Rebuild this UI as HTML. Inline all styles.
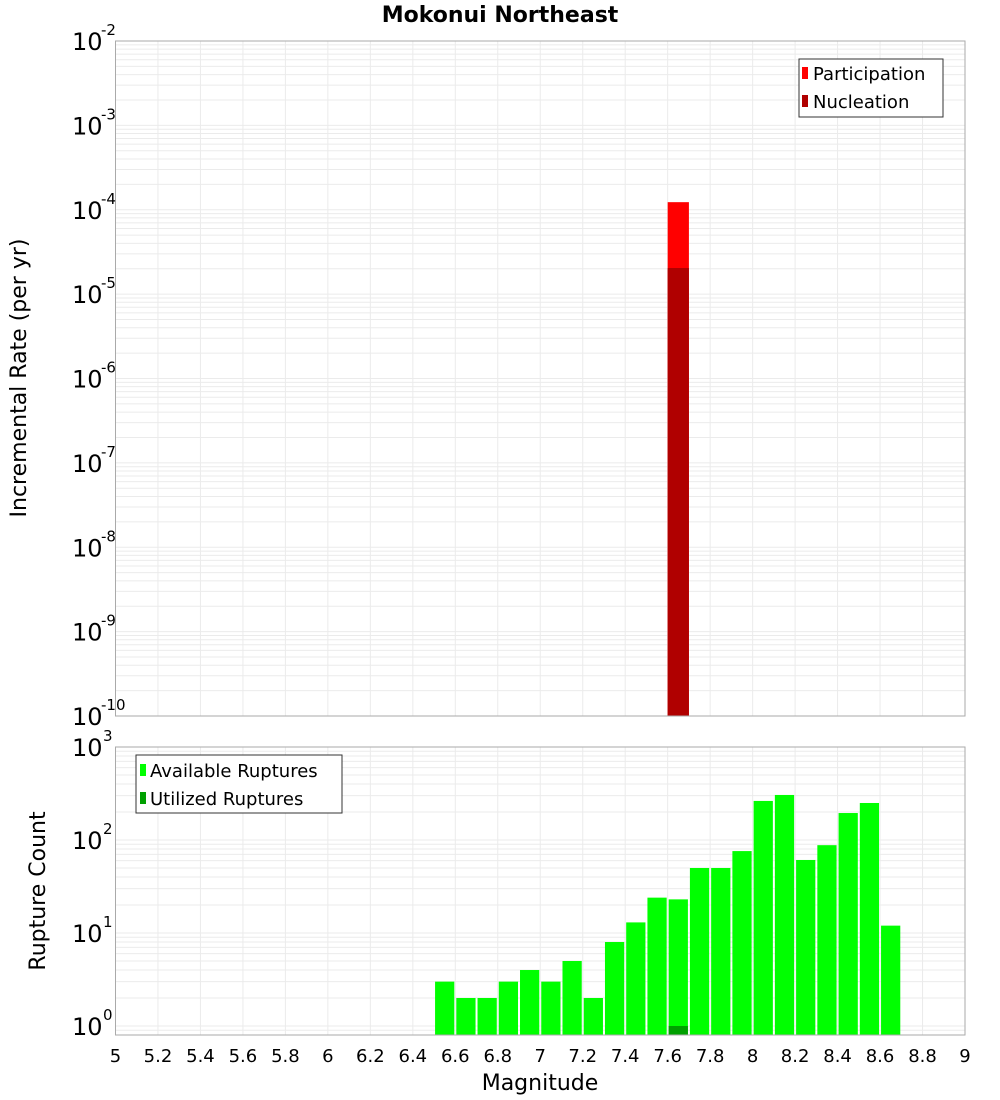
<!DOCTYPE html>
<html><head><meta charset="utf-8"><style>
body{margin:0;background:#fff;}
svg{display:block;font-family:"DejaVu Sans","Liberation Sans",sans-serif;}
</style></head><body>
<svg id="c" width="1000" height="1100"></svg>
<script>
const topBins=[7.65];
const participation=[1.23e-4];
const nucleation=[2.04e-5];
const botBins=[6.55,6.65,6.75,6.85,6.95,7.05,7.15,7.25,7.35,7.45,7.55,7.65,7.75,7.85,7.95,8.05,8.15,8.25,8.35,8.45,8.55,8.65];
const available=[3,2,2,3,4,3,5,2,8,13,24,23,50,50,76,263,305,61,88,195,250,12];
const utilizedBins=[7.65];
const utilized=[1];
const xTicks=[5,5.2,5.4,5.6,5.8,6,6.2,6.4,6.6,6.8,7,7.2,7.4,7.6,7.8,8,8.2,8.4,8.6,8.8,9];
const topExp=[-10,-9,-8,-7,-6,-5,-4,-3,-2];
const botExp=[0,1,2,3];

const NS='http://www.w3.org/2000/svg';
const svg=document.getElementById('c');
function el(t,a,p){const e=document.createElementNS(NS,t);for(const k in a)e.setAttribute(k,a[k]);(p||svg).appendChild(e);return e;}
const X0=115.5,X1=965;
const x=v=>X0+(v-5)/4*(X1-X0);
const T0=41,T1=716;
const yT=v=>T0+(-2-Math.log10(v))/8*(T1-T0);
const B0=747,B1=1035,B10=1026;
const dec=(B10-B0)/3;
const yB=v=>B10-Math.log10(v)*dec;

function grid(y0,y1,eMin,eMax,yf,g){
  for(let e=eMin;e<eMax+1;e++)for(let m=1;m<10;m++){const v=m*Math.pow(10,e);const yy=yf(v);if(yy<y0-0.5||yy>y1+0.5)continue;
    el('line',{x1:X0,x2:X1,y1:yy,y2:yy,stroke:'#ebebeb','stroke-width':1},g);}
  xTicks.forEach(t=>el('line',{x1:x(t),x2:x(t),y1:y0,y2:y1,stroke:'#ebebeb','stroke-width':1},g));
}
// title
const tt=el('text',{x:500,y:22,'text-anchor':'middle','font-size':22,'font-weight':'bold'});tt.textContent='Mokonui Northeast';


// top plot
const gt=el('g',{});
el('rect',{x:X0,y:T0,width:X1-X0,height:T1-T0,fill:'#fff'},gt);
grid(T0,T1,-10,-2,yT,gt);
topBins.forEach((b,i)=>{
  const r=el('rect',{x:x(b-0.05),y:yT(participation[i]),width:x(b+0.05)-x(b-0.05),height:T1-yT(participation[i]),fill:'#ff0000'},gt);
  
  const r2=el('rect',{x:x(b-0.05),y:yT(nucleation[i]),width:x(b+0.05)-x(b-0.05),height:T1-yT(nucleation[i]),fill:'#b00000'},gt);
  
});
el('rect',{x:X0,y:T0,width:X1-X0,height:T1-T0,fill:'none',stroke:'#aaa'},gt);
topExp.forEach(e=>{const yy=yT(Math.pow(10,e));
  const t=el('text',{x:72,y:yy+9,'font-size':24},gt);t.textContent='10';
  
  const s=el('text',{x:101,y:yy-6,'font-size':15},gt);s.textContent=String(e);
});
const yl=el('text',{x:26,y:378,'font-size':22,'text-anchor':'middle',transform:'rotate(-90 26 378)'});yl.textContent='Incremental Rate (per yr)';

// top legend
const lg=el('g',{});
el('rect',{x:799,y:59,width:144,height:58,fill:'#fff',stroke:'#333'},lg);
el('rect',{x:802,y:67,width:6,height:12,fill:'#ff0000'},lg);
el('rect',{x:802,y:95,width:6,height:12,fill:'#b00000'},lg);
let t1=el('text',{x:813,y:80,'font-size':18},lg);t1.textContent='Participation';
let t2=el('text',{x:813,y:108,'font-size':18},lg);t2.textContent='Nucleation';

// bottom plot
const gb=el('g',{});
el('rect',{x:X0,y:B0,width:X1-X0,height:B1-B0,fill:'#fff'},gb);
grid(B0,B1,-1,3,yB,gb);
botBins.forEach((b,i)=>{
  const x0=x(b-0.05)+1,w=x(b+0.05)-x(b-0.05)-2;
  const r=el('rect',{x:x0,y:yB(available[i]),width:w,height:B1-yB(available[i]),fill:'#00ff00'},gb);
  
});
utilizedBins.forEach((b,i)=>{
  const x0=x(b-0.05)+1,w=x(b+0.05)-x(b-0.05)-2;
  const r=el('rect',{x:x0,y:yB(utilized[i]),width:w,height:B1-yB(utilized[i]),fill:'#00a000'},gb);
  
});
el('rect',{x:X0,y:B0,width:X1-X0,height:B1-B0,fill:'none',stroke:'#aaa'},gb);
botExp.forEach(e=>{const yy=yB(Math.pow(10,e));
  const t=el('text',{x:72,y:yy+9,'font-size':24},gb);t.textContent='10';
  
  const s=el('text',{x:103,y:yy-6,'font-size':15},gb);s.textContent=String(e);
});
xTicks.forEach(t=>{const tx=el('text',{x:x(t),y:1062,'font-size':18,'text-anchor':'middle'});tx.textContent=String(t);
  });
const xl=el('text',{x:540,y:1090,'font-size':22,'text-anchor':'middle'});xl.textContent='Magnitude';

const yl2=el('text',{x:45,y:891,'font-size':22,'text-anchor':'middle',transform:'rotate(-90 45 891)'});yl2.textContent='Rupture Count';

const lg2=el('g',{});
el('rect',{x:136,y:755,width:206,height:58,fill:'#fff',stroke:'#333'},lg2);
el('rect',{x:140,y:764,width:6,height:12,fill:'#00ff00'},lg2);
el('rect',{x:140,y:792,width:6,height:12,fill:'#00a000'},lg2);
let t3=el('text',{x:150,y:777,'font-size':18},lg2);t3.textContent='Available Ruptures';
let t4=el('text',{x:150,y:805,'font-size':18},lg2);t4.textContent='Utilized Ruptures';
</script>
</body></html>
